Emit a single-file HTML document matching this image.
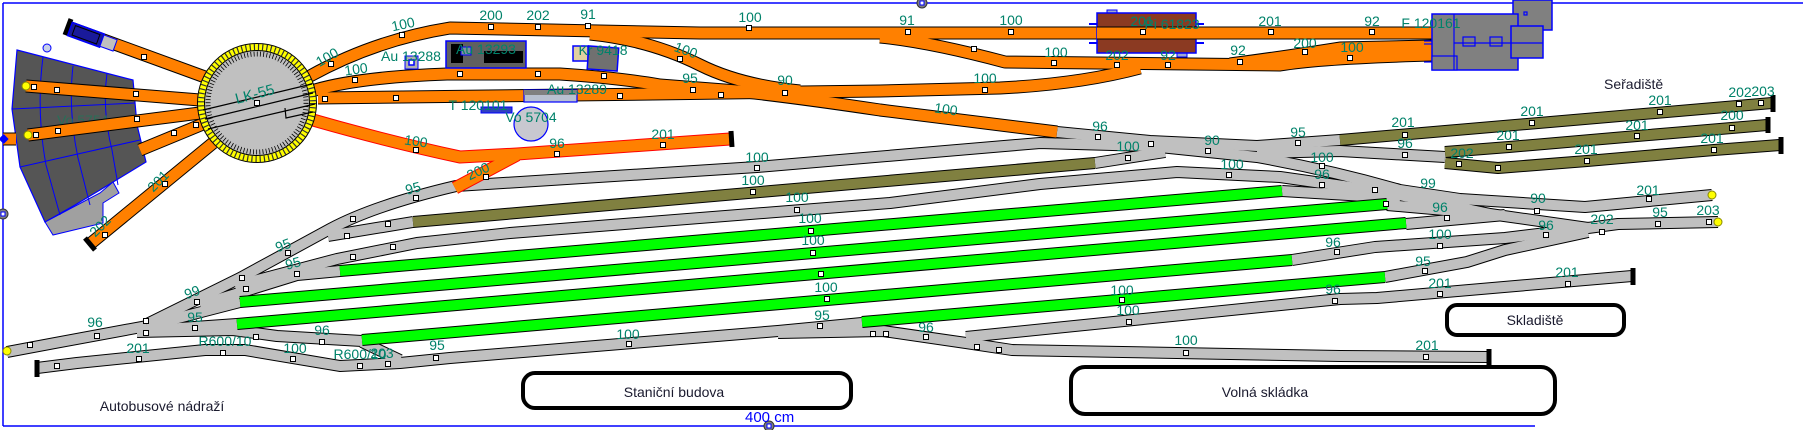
<!DOCTYPE html>
<html><head><meta charset="utf-8">
<style>
html,body{margin:0;padding:0;background:#fff;}
svg{display:block;}
.lb{font-family:"Liberation Sans",sans-serif;font-size:14px;fill:#00826a;}
.dk{font-family:"Liberation Sans",sans-serif;font-size:14px;fill:#1a1a2e;}
</style></head>
<body>
<svg width="1803" height="430" viewBox="0 0 1803 430" xmlns="http://www.w3.org/2000/svg">
<defs>
<g id="gray" fill="none">
<path d="M7,352 L55,343 L147,326"/>
<path d="M147,324 L240,278 L330,229 Q375,205 456,186 L757,167 L1040,143 L1150,146 L1257,157 Q1330,170 1400,190 L1460,199 L1585,207 L1712,195"/>
<path d="M1057,132 L1150,141 L1257,146 L1340,140"/>
<path d="M1095,163 L1165,152"/>
<path d="M1257,153 L1340,151 L1445,157"/>
<path d="M235,286 L337,259 L417,243 L510,233 L890,203 L1040,184 L1177,172 L1280,177 L1385,192 L1490,214 L1588,228 L1618,224 L1718,222"/>
<path d="M328,236 L413,222"/>
<path d="M147,326 L240,302"/>
<path d="M200,305 L297,275 L340,271"/>
<path d="M137,331 L237,324"/>
<path d="M137,332 L233,330 L277,336 L362,341"/>
<path d="M37,368 L77,363 L205,350 L245,350 L340,366 L400,363 L450,358 L778,331 L862,323"/>
<path d="M778,333 L883,331 L966,343 L1012,350 L1340,356 L1488,357"/>
<path d="M966,337 L1340,299 L1377,298 L1504,287 L1632,276"/>
<path d="M1282,191 L1365,196 L1400,198"/>
<path d="M1387,205 L1490,214"/>
<path d="M1406,224 L1505,215"/>
<path d="M1292,260 L1375,247 L1505,238 L1588,228"/>
<path d="M1385,277 L1467,262 L1505,250 L1588,232"/>
<path d="M362,342 L400,360"/>
</g>
<g id="green" fill="none">
<path d="M340,271 L1282,191"/>
<path d="M240,302 L1387,204"/>
<path d="M237,324 L1406,223"/>
<path d="M362,340 L1292,260"/>
<path d="M862,322 L1385,277"/>
</g>
<g id="olive" fill="none">
<path d="M413,222 L1095,163"/>
<path d="M1340,140 L1772,103"/>
<path d="M1445,152 L1509,147 L1637,136 L1767,125"/>
<path d="M1445,163 L1498,168 L1587,161 L1714,150 L1780,145"/>
</g>
<g id="orng" fill="none">
<path d="M26,86 L200,100"/>
<path d="M28,135 L200,113"/>
<path d="M68,27 L205,77"/>
<path d="M140,150 L203,124"/>
<path d="M90,244 L213,143"/>
<path d="M3,139 L16,139"/>
<path d="M310,76 Q375,40 450,28 L700,33 L1432,33"/>
<path d="M315,90 Q360,77 447,74 L560,74 Q620,78 660,85 L737,91 Q800,98 880,110 L1057,132"/>
<path d="M318,98 L653,94 L880,91 L1000,88 Q1080,84 1140,68"/>
<path d="M590,34 Q650,40 700,65 Q740,85 800,91"/>
<path d="M880,37 Q930,42 1005,62 L1280,65 Q1320,58 1432,55"/>
<path d="M1230,64 Q1290,56 1340,48 L1432,46"/>
</g>
<g id="rorng" fill="none">
<path d="M313,120 Q390,142 460,157 L517,154 L730,139"/>
<path d="M517,155 L455,188"/>
</g>
<rect id="sq" x="-2.5" y="-2.5" width="5" height="5" fill="#fff" stroke="#000" stroke-width="1"/>
</defs>

<!-- frame -->
<g stroke="#0000ff" stroke-width="1.5">
<line x1="3" y1="3" x2="1803" y2="3"/>
<line x1="3" y1="3" x2="3" y2="426"/>
<line x1="3" y1="426" x2="1535" y2="426"/>
</g>
<g fill="#808080" stroke="#333" stroke-width="1">
<circle cx="3" cy="214" r="5"/><circle cx="922" cy="3" r="5"/><circle cx="769" cy="426" r="5"/>
</g>
<g fill="#fff" stroke="#00f" stroke-width="1">
<rect x="1" y="212" width="4" height="4"/><rect x="920" y="1" width="4" height="4"/><rect x="767" y="424" width="4" height="4"/>
</g>
<text x="745" y="422" font-family="Liberation Sans,sans-serif" font-size="15" fill="#0000ff">400 cm</text>

<!-- roundhouse -->
<polygon points="17,50 133,80 137,125 146,162 100,190 75,205 45,222 20,167 12,109" fill="#555" stroke="#00f" stroke-width="1.2"/>
<polygon points="45,222 100,193 113,182 119,193 103,203 103,223 53,235" fill="#a0a0a0" stroke="#00f" stroke-width="1"/>
<g stroke="#00f" stroke-width="1" fill="none">
<path d="M12,109 L135,103"/><path d="M20,167 L140,140"/>
<path d="M43,57 Q36,110 46,165 L60,215"/>
<path d="M73,66 Q68,110 78,158 L90,205"/>
<path d="M107,73 Q102,110 112,150 L118,185"/>
</g>
<text x="57" y="125" font-family="Liberation Sans,sans-serif" font-size="14" fill="#2a6e58">Vo 5754</text>
<circle cx="47" cy="48" r="4" fill="#c8d0e8" stroke="#00f" stroke-width="1"/>

<!-- tracks -->
<use href="#gray" stroke="#000" stroke-width="12" stroke-linejoin="round"/>
<use href="#gray" stroke="#c0c0c0" stroke-width="10" stroke-linejoin="round"/>
<use href="#green" stroke="#000" stroke-width="12"/>
<use href="#green" stroke="#00ff00" stroke-width="10"/>
<use href="#olive" stroke="#000" stroke-width="12" stroke-linejoin="round"/>
<use href="#olive" stroke="#808040" stroke-width="10" stroke-linejoin="round"/>
<use href="#orng" stroke="#000" stroke-width="13" stroke-linejoin="round"/>
<use href="#orng" stroke="#ff8000" stroke-width="11" stroke-linejoin="round"/>
<use href="#rorng" stroke="#ff0000" stroke-width="13" stroke-linejoin="round"/>
<use href="#rorng" stroke="#ff8000" stroke-width="11" stroke-linejoin="round"/>

<!-- bumpers -->
<g stroke="#000" stroke-width="5">
<line x1="65" y1="35" x2="71" y2="19"/>
<line x1="95" y1="250" x2="85" y2="238"/>
<line x1="731" y1="131" x2="732" y2="147"/>
<line x1="37" y1="360" x2="37" y2="377"/>
<line x1="1489" y1="349" x2="1489" y2="365"/>
<line x1="1633" y1="268" x2="1633" y2="285"/>
<line x1="1773" y1="95" x2="1773" y2="112"/>
<line x1="1768" y1="117" x2="1768" y2="133"/>
<line x1="1781" y1="137" x2="1781" y2="154"/>
</g>
<g fill="#ffff00" stroke="#8a8a00" stroke-width="1">
<circle cx="26" cy="86" r="4"/><circle cx="28" cy="135" r="4"/><circle cx="7" cy="351" r="4"/>
<circle cx="1712" cy="195" r="4"/><circle cx="1718" cy="222" r="4"/>
</g>
<rect x="0" y="135" width="7" height="7" fill="#00f" transform="rotate(45 3 139)"/>

<!-- loco on upper-left track -->
<g transform="translate(70,29) rotate(20)">
<rect x="0" y="-7" width="34" height="14" fill="#1a1a9a" stroke="#00f" stroke-width="1.5"/>
<rect x="4" y="-5" width="26" height="10" fill="none" stroke="#000" stroke-width="1"/>
<rect x="34" y="-6" width="14" height="12" fill="#c0c0c0" stroke="#00f" stroke-width="1"/>
</g>

<!-- turntable -->
<circle cx="257" cy="103" r="60" fill="#000"/>
<circle cx="257" cy="103" r="56" fill="none" stroke="#ffff00" stroke-width="6"/>
<circle cx="257" cy="103" r="56" fill="none" stroke="#333" stroke-width="6" stroke-dasharray="1.2 3"/>
<circle cx="257" cy="103" r="52" fill="#c0c0c0"/>
<circle cx="257" cy="103" r="49" fill="none" stroke="#000" stroke-width="5" stroke-dasharray="0.8 2.4"/>
<g stroke="#000" stroke-width="1.2" fill="none">
<line x1="203" y1="110" x2="312" y2="84"/>
<line x1="205" y1="119" x2="313" y2="93"/>
<line x1="208" y1="129" x2="315" y2="104"/>
<path d="M285,108 L286,118 L313,112"/>
</g>
<text x="255" y="99" class="lb" font-size="15" transform="rotate(-15 255 95)" text-anchor="middle" style="font-size:15px">LK-55</text>

<!-- small buildings top middle -->
<rect x="446" y="41" width="80" height="27" fill="#606060" stroke="#00f" stroke-width="1.5"/>
<rect x="451" y="44" width="12" height="19" fill="#000"/>
<rect x="484" y="51" width="39" height="12" fill="#000"/>
<rect x="461" y="47" width="10" height="8" fill="#8090a0" stroke="#00f" stroke-width="1"/>
<rect x="405" y="56" width="13" height="13" fill="#b0b0b0" stroke="#00f" stroke-width="1"/>
<rect x="409" y="60" width="5" height="5" fill="#fff" stroke="#00f" stroke-width="1.5"/>
<rect x="573" y="46" width="15" height="15" fill="#e0d0a0" stroke="#00f" stroke-width="1.5"/>
<rect x="588" y="47" width="30" height="23" fill="#707070" stroke="#00f" stroke-width="1.5" transform="rotate(4 603 58)"/>
<rect x="524" y="90" width="53" height="12" fill="#b8c0d0" stroke="#00f" stroke-width="1.2"/>
<rect x="524" y="90" width="53" height="5" fill="#808080"/>
<rect x="481" y="107" width="31" height="6" fill="#3040c0" stroke="#00f" stroke-width="1"/>
<circle cx="531" cy="124" r="17" fill="#c8c8d0" stroke="#00f" stroke-width="1.2"/>

<!-- Pi 61823 -->
<rect x="1107" y="10" width="10" height="4" fill="#a0a8d0" stroke="#00f" stroke-width="1"/>
<rect x="1177" y="53" width="10" height="4" fill="#a0a8d0" stroke="#00f" stroke-width="1"/>
<rect x="1097" y="13" width="99" height="40" fill="#8b3a22" stroke="#00f" stroke-width="1.5"/>
<g stroke="#00f" stroke-width="2"><line x1="1089" y1="24" x2="1097" y2="24"/><line x1="1089" y1="43" x2="1097" y2="43"/><line x1="1196" y1="24" x2="1204" y2="24"/><line x1="1196" y1="43" x2="1204" y2="43"/></g>
<path d="M1097,33 L1432,33" stroke="#000" stroke-width="13"/>
<path d="M1097,33 L1432,33" stroke="#ff8000" stroke-width="11"/>

<!-- F 120161 building -->
<rect x="1513" y="0" width="39" height="30" fill="#808080" stroke="#00f" stroke-width="1.5"/>
<rect x="1432" y="14" width="86" height="56" fill="#808080" stroke="#00f" stroke-width="1.5"/>
<rect x="1511" y="26" width="32" height="32" fill="#808080" stroke="#00f" stroke-width="1.5"/>
<rect x="1432" y="56" width="25" height="14" fill="#808080" stroke="#00f" stroke-width="1.2"/>
<g stroke="#00f" stroke-width="1.2" fill="none">
<line x1="1454" y1="14" x2="1454" y2="70"/><line x1="1454" y1="43" x2="1543" y2="43"/>
<rect x="1463" y="37" width="12" height="9"/><rect x="1490" y="37" width="12" height="9"/>
<rect x="1524" y="12" width="3" height="3"/>
<line x1="1424" y1="41" x2="1432" y2="41"/><line x1="1424" y1="44" x2="1432" y2="44"/><line x1="1424" y1="62" x2="1432" y2="62"/>
</g>

<!-- rounded boxes -->
<g fill="#fff" stroke="#000" stroke-width="4">
<rect x="523" y="373" width="328" height="35" rx="12"/>
<rect x="1071" y="367" width="484" height="47" rx="14"/>
<rect x="1447" y="305" width="177" height="30" rx="10"/>
</g>
<text x="674" y="397" class="dk" text-anchor="middle">Staniční budova</text>
<text x="1265" y="397" class="dk" text-anchor="middle">Volná skládka</text>
<text x="1535" y="325" class="dk" text-anchor="middle">Skladiště</text>
<text x="1604" y="89" class="dk">Seřadiště</text>
<text x="162" y="411" class="dk" text-anchor="middle">Autobusové nádraží</text>

<!-- squares -->
<g>
<use href="#sq" x="34" y="87"/><use href="#sq" x="57" y="90"/><use href="#sq" x="136" y="94"/>
<use href="#sq" x="36" y="135"/><use href="#sq" x="58" y="131"/><use href="#sq" x="137" y="119"/>
<use href="#sq" x="144" y="57"/><use href="#sq" x="174" y="133"/><use href="#sq" x="196" y="125"/>
<use href="#sq" x="165" y="184"/><use href="#sq" x="105" y="235"/><use href="#sq" x="257" y="103"/>
<use href="#sq" x="331" y="64"/><use href="#sq" x="402" y="35"/><use href="#sq" x="491" y="27"/><use href="#sq" x="538" y="27"/>
<use href="#sq" x="588" y="26"/><use href="#sq" x="749" y="28"/><use href="#sq" x="908" y="32"/><use href="#sq" x="1011" y="32"/>
<use href="#sq" x="1143" y="32"/><use href="#sq" x="1271" y="32"/><use href="#sq" x="1372" y="32"/>
<use href="#sq" x="355" y="80"/><use href="#sq" x="460" y="74"/><use href="#sq" x="538" y="74"/><use href="#sq" x="604" y="76"/>
<use href="#sq" x="693" y="90"/><use href="#sq" x="785" y="93"/>
<use href="#sq" x="325" y="99"/><use href="#sq" x="396" y="98"/><use href="#sq" x="620" y="96"/><use href="#sq" x="721" y="95"/><use href="#sq" x="985" y="90"/>
<use href="#sq" x="680" y="59"/>
<use href="#sq" x="974" y="49"/><use href="#sq" x="1054" y="63"/><use href="#sq" x="1117" y="65"/><use href="#sq" x="1168" y="65"/>
<use href="#sq" x="1240" y="62"/><use href="#sq" x="1305" y="52"/><use href="#sq" x="1350" y="58"/>
<use href="#sq" x="416" y="150"/><use href="#sq" x="557" y="154"/><use href="#sq" x="663" y="145"/><use href="#sq" x="486" y="177"/>
<use href="#sq" x="30" y="345"/><use href="#sq" x="97" y="336"/>
<use href="#sq" x="146" y="321"/><use href="#sq" x="146" y="333"/><use href="#sq" x="197" y="302"/><use href="#sq" x="242" y="278"/>
<use href="#sq" x="246" y="289"/><use href="#sq" x="288" y="253"/><use href="#sq" x="297" y="274"/><use href="#sq" x="195" y="328"/>
<use href="#sq" x="256" y="337"/><use href="#sq" x="322" y="342"/><use href="#sq" x="223" y="353"/><use href="#sq" x="293" y="359"/>
<use href="#sq" x="360" y="366"/><use href="#sq" x="388" y="364"/><use href="#sq" x="436" y="358"/><use href="#sq" x="353" y="219"/>
<use href="#sq" x="347" y="236"/><use href="#sq" x="388" y="224"/><use href="#sq" x="393" y="247"/><use href="#sq" x="353" y="257"/>
<use href="#sq" x="416" y="198"/><use href="#sq" x="57" y="366"/><use href="#sq" x="139" y="359"/>
<use href="#sq" x="757" y="168"/><use href="#sq" x="753" y="192"/><use href="#sq" x="797" y="210"/><use href="#sq" x="811" y="231"/>
<use href="#sq" x="813" y="253"/><use href="#sq" x="821" y="274"/><use href="#sq" x="827" y="299"/><use href="#sq" x="629" y="344"/>
<use href="#sq" x="820" y="326"/><use href="#sq" x="873" y="334"/><use href="#sq" x="886" y="334"/>
<use href="#sq" x="926" y="337"/><use href="#sq" x="977" y="347"/><use href="#sq" x="999" y="350"/><use href="#sq" x="1129" y="322"/>
<use href="#sq" x="1186" y="353"/><use href="#sq" x="1122" y="300"/><use href="#sq" x="1335" y="301"/><use href="#sq" x="1337" y="252"/>
<use href="#sq" x="1098" y="137"/><use href="#sq" x="1151" y="144"/><use href="#sq" x="1128" y="158"/><use href="#sq" x="1208" y="151"/>
<use href="#sq" x="1298" y="143"/><use href="#sq" x="1322" y="166"/><use href="#sq" x="1229" y="175"/><use href="#sq" x="1322" y="185"/>
<use href="#sq" x="1375" y="190"/><use href="#sq" x="1447" y="218"/><use href="#sq" x="1440" y="246"/><use href="#sq" x="1425" y="271"/>
<use href="#sq" x="1440" y="294"/><use href="#sq" x="1568" y="284"/><use href="#sq" x="1426" y="357"/><use href="#sq" x="1386" y="204"/>
<use href="#sq" x="1405" y="135"/><use href="#sq" x="1532" y="123"/><use href="#sq" x="1660" y="112"/><use href="#sq" x="1739" y="104"/>
<use href="#sq" x="1761" y="103"/><use href="#sq" x="1405" y="155"/><use href="#sq" x="1509" y="147"/><use href="#sq" x="1637" y="136"/>
<use href="#sq" x="1732" y="128"/><use href="#sq" x="1459" y="164"/><use href="#sq" x="1498" y="168"/><use href="#sq" x="1587" y="161"/>
<use href="#sq" x="1714" y="150"/><use href="#sq" x="1649" y="199"/><use href="#sq" x="1537" y="211"/><use href="#sq" x="1602" y="232"/>
<use href="#sq" x="1658" y="224"/><use href="#sq" x="1709" y="222"/><use href="#sq" x="1546" y="235"/>
</g>

<!-- labels -->
<g class="lb" text-anchor="middle">
<text x="327" y="62" transform="rotate(-30 327 57)">100</text>
<text x="403" y="29" transform="rotate(-12 403 24)">100</text>
<text x="356" y="74" transform="rotate(-8 356 69)">100</text>
<text x="411" y="61">Au 13288</text>
<text x="416" y="146" transform="rotate(8 416 141)">100</text>
<text x="158" y="186" transform="rotate(-45 158 181)">201</text>
<text x="100" y="231" transform="rotate(-45 100 226)">202</text>
<text x="413" y="193" transform="rotate(-15 413 188)">95</text>
<text x="283" y="250" transform="rotate(-20 283 245)">95</text>
<text x="293" y="268" transform="rotate(-15 293 263)">95</text>
<text x="192" y="297" transform="rotate(-20 192 292)">99</text>
<text x="195" y="322">95</text>
<text x="95" y="327">96</text>
<text x="225" y="346">R600/10</text>
<text x="138" y="353">201</text>
<text x="295" y="353">100</text>
<text x="322" y="335">96</text>
<text x="360" y="359">R600/10</text>
<text x="382" y="358">203</text>
<text x="437" y="350">95</text>
<text x="491" y="20">200</text><text x="538" y="20">202</text><text x="588" y="19">91</text><text x="750" y="22">100</text>
<text x="486" y="54">Au 13293</text>
<text x="603" y="55">Kr 9418</text>
<text x="686" y="55" transform="rotate(20 686 50)">100</text>
<text x="690" y="83">95</text>
<text x="785" y="85">90</text>
<text x="577" y="94">Au 13289</text>
<text x="478" y="110">T 120101</text>
<text x="531" y="122">Vo 5704</text>
<text x="557" y="148">96</text>
<text x="663" y="139">201</text>
<text x="478" y="176" transform="rotate(-25 478 171)">200</text>
<text x="757" y="162">100</text>
<text x="753" y="185">100</text>
<text x="797" y="202">100</text>
<text x="810" y="223">100</text>
<text x="813" y="245">100</text>
<text x="826" y="292">100</text>
<text x="822" y="320">95</text>
<text x="628" y="339">100</text>
<text x="907" y="25">91</text><text x="1011" y="25">100</text><text x="1142" y="26">201</text>
<text x="1172" y="29">Pi 61823</text>
<text x="1270" y="26">201</text>
<text x="1056" y="57">100</text><text x="1117" y="60">202</text><text x="1168" y="60">92</text><text x="1238" y="55">92</text>
<text x="1305" y="48">200</text><text x="1352" y="52">100</text>
<text x="985" y="83">100</text>
<text x="946" y="114" transform="rotate(8 946 109)">100</text>
<text x="1100" y="131">96</text><text x="1128" y="151">100</text><text x="1212" y="145">90</text><text x="1298" y="137">95</text>
<text x="1232" y="169">100</text><text x="1322" y="162">100</text><text x="1322" y="179">96</text>
<text x="1372" y="26">92</text>
<text x="1431" y="28">F 120161</text>
<text x="1403" y="127">201</text><text x="1532" y="116">201</text><text x="1660" y="105">201</text>
<text x="1740" y="97">202</text><text x="1763" y="96">203</text>
<text x="1405" y="148">96</text>
<text x="1508" y="140">201</text><text x="1637" y="130">201</text><text x="1732" y="120">200</text>
<text x="1462" y="158">202</text><text x="1586" y="154">201</text><text x="1712" y="143">201</text>
<text x="1428" y="188">99</text><text x="1538" y="203">90</text><text x="1648" y="195">201</text>
<text x="1440" y="212">96</text><text x="1660" y="217">95</text><text x="1708" y="215">203</text>
<text x="1602" y="224">202</text><text x="1546" y="230">96</text><text x="1440" y="239">100</text>
<text x="1423" y="266">95</text><text x="1440" y="288">201</text><text x="1567" y="277">201</text>
<text x="1333" y="247">96</text><text x="1333" y="294">96</text>
<text x="1122" y="295">100</text><text x="1128" y="315">100</text>
<text x="926" y="332">96</text><text x="1186" y="345">100</text><text x="1427" y="350">201</text>
</g>
</svg>
</body></html>
